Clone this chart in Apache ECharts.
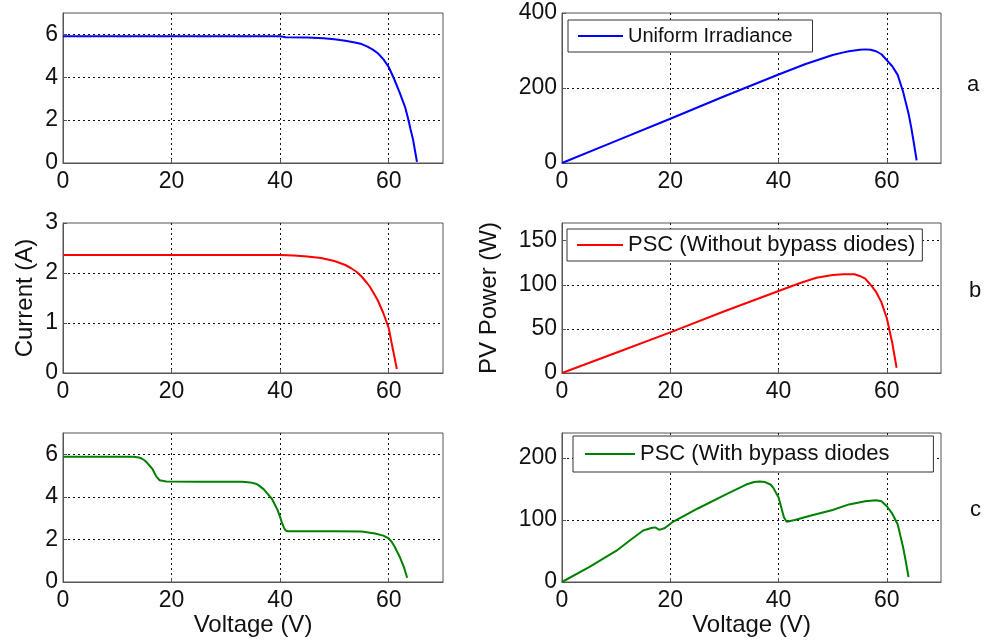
<!DOCTYPE html>
<html>
<head>
<meta charset="utf-8">
<script src="https://cdn.jsdelivr.net/npm/echarts@6/dist/echarts.min.js"></script>
<style>
  html, body { margin: 0; padding: 0; background: #fff; }
  #chart { width: 984px; height: 640px; }
</style>
</head>
<body>
<div id="chart"></div>
<script>
// (a) uniform irradiance
const uniformV_iv = [0, 10, 20, 30, 40, 41, 45, 48, 50, 52, 53, 54, 55, 56, 57, 58, 59, 60, 61, 62, 63, 63.5, 64, 64.5, 65, 65.2];
const uniformI    = [5.92, 5.92, 5.92, 5.92, 5.91, 5.87, 5.86, 5.82, 5.77, 5.7, 5.66, 5.61, 5.55, 5.44, 5.3, 5.12, 4.85, 4.48, 3.92, 3.3, 2.62, 2.15, 1.6, 1.07, 0.35, 0.05];
const uniformV_pv = [0, 10, 20, 30, 40, 45, 50, 52, 53, 54, 55, 56, 57, 58, 59, 60, 61, 62, 63, 64, 64.5, 65, 65.5];
const uniformP    = [0, 59, 118, 178, 236, 264, 288, 295, 298, 300, 302, 303, 302, 298, 290, 274, 258, 235, 190, 132, 95, 52, 7];

// (b) partial shading, no bypass diodes
const noBypassV_iv = [0, 10, 20, 30, 40, 42.5, 45, 47.5, 50, 51, 52, 53, 54, 55, 56, 56.5, 57, 58, 59, 60, 60.5, 61, 61.5];
const noBypassI    = [2.36, 2.36, 2.36, 2.36, 2.36, 2.35, 2.33, 2.3, 2.24, 2.2, 2.16, 2.1, 2.03, 1.93, 1.8, 1.73, 1.64, 1.45, 1.2, 0.9, 0.62, 0.35, 0.08];
const noBypassV_pv = [0, 10, 20, 30, 40, 44, 47, 50, 52, 54, 55, 56, 57, 58, 59, 60, 61, 61.8];
const noBypassP    = [0, 23, 46, 70, 93, 102, 108, 111, 112, 112, 110, 107, 100, 92, 80, 62, 34, 6];

// (c) partial shading, with bypass diodes
const bypassV_iv = [0, 5, 10, 13, 14, 14.5, 15, 15.5, 16, 16.5, 17.2, 17.8, 19, 25, 33, 34.5, 35.5, 36, 37, 37.5, 38.5, 39.5, 40, 40.3, 40.7, 41, 41.5, 45, 50, 55, 57.5, 59, 60, 60.5, 61, 62, 62.8, 63.4];
const bypassI    = [5.89, 5.89, 5.89, 5.88, 5.85, 5.8, 5.72, 5.6, 5.45, 5.3, 4.95, 4.78, 4.72, 4.71, 4.71, 4.68, 4.62, 4.55, 4.35, 4.2, 3.9, 3.4, 3.05, 2.8, 2.55, 2.42, 2.38, 2.38, 2.38, 2.37, 2.28, 2.18, 2.05, 1.9, 1.7, 1.2, 0.7, 0.2];
const bypassV_pv = [0, 5, 10, 13, 15, 16.5, 17.2, 18, 19, 20.5, 25, 30, 34, 35.5, 36.5, 37.5, 38.5, 39, 40, 40.5, 41, 41.5, 43, 46, 50, 53, 56, 58, 59, 60, 61, 62, 63, 63.5, 64];
const bypassP    = [0, 24, 50, 70, 83, 87, 88, 84, 87, 97, 118, 140, 157, 161, 162, 161, 157, 152, 136, 120, 104, 97, 100, 107, 116, 125, 130, 131.5, 130, 122, 110, 93, 56, 33, 8];

const xTicks = { min: 0, max: 70, interval: 20 };
const yCurrentTop = { max: 7, interval: 2 };
const yCurrentMid = { max: 3, interval: 1 };
const yPowerTop = { max: 400, interval: 200 };
const yPowerMid = { max: 170, interval: 50 };
const yPowerBot = { max: 240, interval: 100 };

const FONT = 'Liberation Sans';

function pairs(xs, ys) {
  return xs.map((x, i) => [x, ys[i]]);
}

const gridBox = { show: true, borderColor: '#555', borderWidth: 1, backgroundColor: 'transparent' };
const dotted = { color: '#111', type: [2, 3], width: 1 };

function xAxis(idx, withName) {
  return {
    type: 'value', gridIndex: idx,
    min: xTicks.min, max: xTicks.max, interval: xTicks.interval,
    name: withName ? 'Voltage (V)' : '',
    nameLocation: 'middle', nameGap: 30,
    nameTextStyle: { fontFamily: FONT, fontSize: 24, color: '#111' },
    axisLine: { show: true, onZero: false, lineStyle: { color: '#555' } },
    axisTick: { show: true, inside: true, length: 4, lineStyle: { color: '#555' } },
    axisLabel: { fontFamily: FONT, fontSize: 23, color: '#111', margin: 7, showMaxLabel: false },
    splitLine: { show: true, showMinLine: false, showMaxLine: false, lineStyle: dotted }
  };
}

function yAxis(idx, range, name, gap, showMax) {
  return {
    type: 'value', gridIndex: idx,
    min: 0, max: range.max, interval: range.interval,
    name: name || '',
    nameLocation: 'middle', nameGap: gap || 0,
    nameTextStyle: { fontFamily: FONT, fontSize: 24, color: '#111' },
    axisLine: { show: true, onZero: false, lineStyle: { color: '#555' } },
    axisTick: { show: true, inside: true, length: 4, lineStyle: { color: '#555' } },
    axisLabel: { fontFamily: FONT, fontSize: 23, color: '#111', margin: 5, showMaxLabel: showMax },
    splitLine: { show: true, showMinLine: false, showMaxLine: false, lineStyle: dotted }
  };
}

function line(name, idx, data, color) {
  return {
    name: name, type: 'line', xAxisIndex: idx, yAxisIndex: idx,
    data: data, symbol: 'none', showSymbol: false, smooth: false,
    lineStyle: { color: color, width: 2 }, itemStyle: { color: color },
    animation: false
  };
}

function legend(name, left, top, fontSize, itemWidth, pad) {
  return {
    data: [name], left: left, top: top, orient: 'horizontal',
    icon: 'rect', itemWidth: itemWidth, itemHeight: 2, selectedMode: false,
    backgroundColor: '#fff', borderColor: '#333', borderWidth: 1,
    padding: pad,
    textStyle: { fontFamily: FONT, fontSize: fontSize, color: '#111' }
  };
}

const chart = echarts.init(document.getElementById('chart'));
chart.setOption({
  backgroundColor: '#fff',
  animation: false,
  grid: [
    Object.assign({ left: 63, top: 13, width: 380, height: 150 }, gridBox),
    Object.assign({ left: 562, top: 13, width: 379, height: 150 }, gridBox),
    Object.assign({ left: 63, top: 223, width: 380, height: 150 }, gridBox),
    Object.assign({ left: 562, top: 223, width: 379, height: 150 }, gridBox),
    Object.assign({ left: 63, top: 433, width: 380, height: 149 }, gridBox),
    Object.assign({ left: 562, top: 433, width: 379, height: 149 }, gridBox)
  ],
  xAxis: [xAxis(0), xAxis(1), xAxis(2), xAxis(3), xAxis(4, true), xAxis(5, true)],
  yAxis: [
    yAxis(0, yCurrentTop, '', 0, false),
    yAxis(1, yPowerTop, '', 0, true),
    yAxis(2, yCurrentMid, 'Current (A)', 26, true),
    yAxis(3, yPowerMid, 'PV Power (W)', 61, false),
    yAxis(4, yCurrentTop, '', 0, false),
    yAxis(5, yPowerBot, '', 0, false)
  ],
  legend: [
    legend('Uniform Irradiance', 568, 20, 20, 45, [6, 20, 6, 10]),
    legend('PSC (Without bypass diodes)', 567, 229, 22, 46, [5, 7, 5, 10]),
    legend('PSC (With bypass diodes', 573, 436, 22, 50, [7, 44, 7, 12])
  ],
  series: [
    line('Uniform I', 0, pairs(uniformV_iv, uniformI), '#0000ff'),
    line('Uniform Irradiance', 1, pairs(uniformV_pv, uniformP), '#0000ff'),
    line('No bypass I', 2, pairs(noBypassV_iv, noBypassI), '#ff0000'),
    line('PSC (Without bypass diodes)', 3, pairs(noBypassV_pv, noBypassP), '#ff0000'),
    line('Bypass I', 4, pairs(bypassV_iv, bypassI), '#008000'),
    line('PSC (With bypass diodes', 5, pairs(bypassV_pv, bypassP), '#008000')
  ],
  graphic: [
    { type: 'text', left: 967, top: 74, style: { text: 'a', font: '22px "Liberation Sans"', fill: '#111' } },
    { type: 'text', left: 969, top: 280, style: { text: 'b', font: '22px "Liberation Sans"', fill: '#111' } },
    { type: 'text', left: 970, top: 499, style: { text: 'c', font: '22px "Liberation Sans"', fill: '#111' } }
  ]
});
</script>
</body>
</html>
